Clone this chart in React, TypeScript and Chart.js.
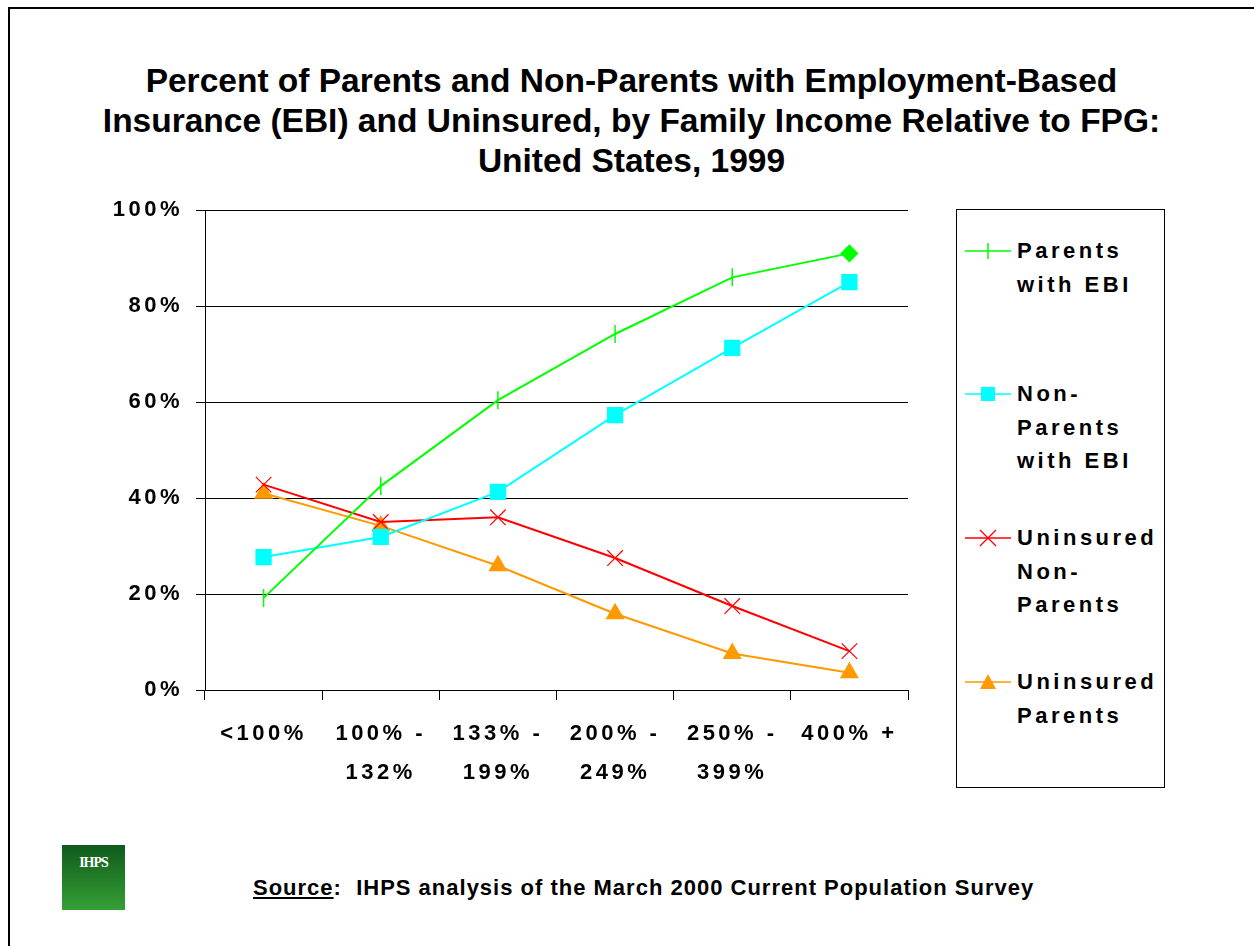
import React, { useEffect, useRef } from "react";
import { Chart, registerables } from "chart.js";

Chart.register(...registerables);

const categories: string[][] = [
  ["<100%"],
  ["100% -", "132%"],
  ["133% -", "199%"],
  ["200% -", "249%"],
  ["250% -", "399%"],
  ["400% +"],
];

const parentsEBI = [19.2, 42.5, 60.4, 74.2, 86.0, 91.0];
const nonParentsEBI = [27.7, 31.9, 41.3, 57.3, 71.3, 85.0];
const uninsuredNonParents = [42.8, 35.0, 36.0, 27.5, 17.5, 8.1];
const uninsuredParents = [41.0, 34.2, 25.9, 15.9, 7.6, 3.6];

const yTicks = [0, 20, 40, 60, 80, 100];

const titleLines = [
  "Percent of Parents and Non-Parents with Employment-Based",
  "Insurance (EBI) and Uninsured, by Family Income Relative to FPG:",
  "United States, 1999",
];

const GREEN = "#00FF00";
const CYAN = "#00FFFF";
const RED = "#FF0000";
const ORANGE = "#FF9900";

const FONT = "Arial, 'Liberation Sans', Helvetica, sans-serif";

const spacingPlugin = {
  id: "spacing",
  beforeLayout(chart: any) {
    chart.ctx.letterSpacing = "3.5px";
  },
  beforeDraw(chart: any) {
    chart.ctx.letterSpacing = "3.5px";
  },
};

function LegendIcon({ kind, color }: { kind: string; color: string }) {
  return (
    <svg width={46} height={20} viewBox="0 0 46 20" style={{ display: "block" }}>
      <line x1={0} y1={10} x2={46} y2={10} stroke={color} strokeWidth={1.5} />
      {kind === "plus" && <line x1={23} y1={2} x2={23} y2={18} stroke={color} strokeWidth={1.5} />}
      {kind === "square" && <rect x={16} y={3} width={14} height={14} fill={color} />}
      {kind === "x" && (
        <g stroke={color} strokeWidth={1.2}>
          <line x1={15} y1={2} x2={31} y2={18} />
          <line x1={31} y1={2} x2={15} y2={18} />
        </g>
      )}
      {kind === "tri" && <polygon points="23,2 31,17 15,17" fill={color} />}
    </svg>
  );
}

const legendItems = [
  { lines: ["Parents", "with EBI"], kind: "plus", color: GREEN, top: 234 },
  { lines: ["Non-", "Parents", "with EBI"], kind: "square", color: CYAN, top: 377 },
  { lines: ["Uninsured", "Non-", "Parents"], kind: "x", color: RED, top: 521 },
  { lines: ["Uninsured", "Parents"], kind: "tri", color: ORANGE, top: 665 },
];

export default function App() {
  const canvasRef = useRef<HTMLCanvasElement | null>(null);

  useEffect(() => {
    if (!canvasRef.current) return;
    const n = parentsEBI.length;
    const chart = new Chart(canvasRef.current, {
      type: "line",
      data: {
        labels: categories,
        datasets: [
          {
            label: "Parents with EBI",
            data: parentsEBI,
            borderColor: GREEN,
            backgroundColor: GREEN,
            borderWidth: 2,
            pointStyle: parentsEBI.map((_, i) => (i === n - 1 ? "rectRot" : "line")) as any,
            pointRotation: parentsEBI.map((_, i) => (i === n - 1 ? 0 : 90)),
            pointRadius: parentsEBI.map((_, i) => (i === n - 1 ? 8 : 9)),
            pointBorderWidth: 1.5,
            pointBorderColor: GREEN,
            pointBackgroundColor: GREEN,
          },
          {
            label: "Non-Parents with EBI",
            data: nonParentsEBI,
            borderColor: CYAN,
            backgroundColor: CYAN,
            borderWidth: 2,
            pointStyle: "rect",
            pointRadius: 11.5,
            pointBorderWidth: 0,
            pointBackgroundColor: CYAN,
          },
          {
            label: "Uninsured Non-Parents",
            data: uninsuredNonParents,
            borderColor: RED,
            backgroundColor: RED,
            borderWidth: 2,
            pointStyle: "crossRot",
            pointRadius: 11,
            pointBorderWidth: 1.2,
            pointBorderColor: RED,
          },
          {
            label: "Uninsured Parents",
            data: uninsuredParents,
            borderColor: ORANGE,
            backgroundColor: ORANGE,
            borderWidth: 2,
            pointStyle: "triangle",
            pointRadius: 11,
            pointBorderWidth: 0,
            pointBackgroundColor: ORANGE,
          },
        ],
      },
      options: {
        responsive: false,
        animation: false,
        events: [],
        layout: { padding: { top: 15, right: 22, left: 0, bottom: 0 } },
        plugins: {
          legend: { display: false },
          tooltip: { enabled: false },
          title: { display: false },
        },
        scales: {
          x: {
            type: "category",
            offset: true,
            grid: {
              offset: true,
              drawOnChartArea: false,
              drawTicks: true,
              tickLength: 10,
              color: "#000",
              lineWidth: 1,
            },
            border: { display: true, color: "#000", width: 1 },
            ticks: {
              color: "#000",
              padding: 14,
              maxRotation: 0,
              autoSkip: false,
              font: { family: FONT, size: 22, weight: "bold", lineHeight: 39 / 22 },
            },
            afterFit(scale: any) {
              scale.height = 110;
            },
          },
          y: {
            min: 0,
            max: 100,
            afterBuildTicks(scale: any) {
              scale.ticks = yTicks.map((v) => ({ value: v }));
            },
            grid: {
              color: "#000",
              lineWidth: 1,
              drawTicks: true,
              tickLength: 9,
            },
            border: { display: true, color: "#000", width: 1 },
            ticks: {
              color: "#000",
              padding: 13,
              font: { family: FONT, size: 22, weight: "bold" },
              callback: (v: any) => v + "%",
            },
            afterFit(scale: any) {
              scale.width = 95;
            },
          },
        },
      },
      plugins: [spacingPlugin],
    } as any);
    return () => chart.destroy();
  }, []);

  return (
    <div>
      <div
        style={{
          position: "absolute",
          left: 8,
          top: 7,
          width: 1246,
          height: 939,
          borderTop: "2px solid #000",
          borderLeft: "2px solid #000",
          boxSizing: "border-box",
        }}
      />
      <div
        style={{
          position: "absolute",
          left: 60,
          top: 61,
          width: 1143,
          textAlign: "center",
          fontFamily: FONT,
          fontWeight: "bold",
          fontSize: 33.5,
          lineHeight: "40px",
          color: "#000",
        }}
      >
        {titleLines.map((t, i) => (
          <div key={i}>{t}</div>
        ))}
      </div>
      <canvas
        ref={canvasRef}
        width={820}
        height={616}
        style={{ position: "absolute", left: 110, top: 184, width: 820, height: 616 }}
      />
      <div
        style={{
          position: "absolute",
          left: 956,
          top: 209,
          width: 209,
          height: 579,
          border: "1px solid #000",
          boxSizing: "border-box",
        }}
      />
      {legendItems.map((it, i) => (
        <div key={i}>
          <div style={{ position: "absolute", left: 965, top: it.top + 16.75 - 10 }}>
            <LegendIcon kind={it.kind} color={it.color} />
          </div>
          <div
            style={{
              position: "absolute",
              left: 1017,
              top: it.top,
              fontFamily: FONT,
              fontWeight: "bold",
              fontSize: 22,
              letterSpacing: "3.5px",
              lineHeight: "33.5px",
              color: "#000",
              whiteSpace: "nowrap",
            }}
          >
            {it.lines.map((l, j) => (
              <div key={j}>{l}</div>
            ))}
          </div>
        </div>
      ))}
      <div
        style={{
          position: "absolute",
          left: 62,
          top: 845,
          width: 63,
          height: 65,
          background: "linear-gradient(#0f5a1c, #35a035)",
        }}
      >
        <div
          style={{
            textAlign: "center",
            marginTop: 10,
            color: "#fff",
            fontFamily: "'Liberation Serif', 'Times New Roman', serif",
            fontWeight: "bold",
            fontSize: 14,
            letterSpacing: "-1px",
          }}
        >
          IHPS
        </div>
      </div>
      <div
        style={{
          position: "absolute",
          left: 253,
          top: 876,
          fontFamily: FONT,
          fontWeight: "bold",
          fontSize: 22,
          letterSpacing: "1px",
          lineHeight: "24px",
          color: "#000",
          whiteSpace: "pre",
        }}
      >
        <span style={{ textDecoration: "underline" }}>Source</span>
        {":  IHPS analysis of the March 2000 Current Population Survey"}
      </div>
    </div>
  );
}
